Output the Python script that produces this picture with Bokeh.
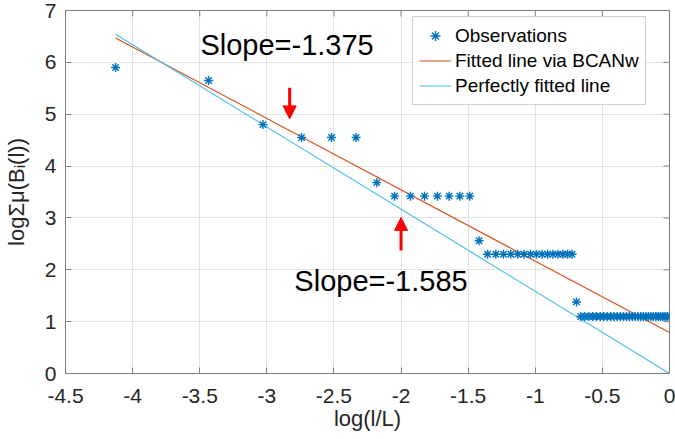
import math
from bokeh.plotting import figure
from bokeh.models import (Range1d, FixedTicker, NumeralTickFormatter,
                          Legend, LegendItem, Arrow, NormalHead, ColumnDataSource)
from bokeh.core.properties import value
from bokeh.embed import file_html
from bokeh.resources import INLINE

FONT = "Liberation Sans"

# Observations: x = log(l/L), y = log sum mu(B_i(l))
obs_x = [-4.127, -3.434, -3.029, -2.741, -2.518, -2.335, -2.181, -2.048, -1.930, -1.825,
         -1.729, -1.642, -1.562, -1.488, -1.419, -1.355, -1.294, -1.237, -1.183, -1.131,
         -1.083, -1.036, -0.992, -0.949, -0.908, -0.869, -0.831, -0.795, -0.760, -0.726,
         -0.693, -0.661, -0.631, -0.601, -0.572, -0.544, -0.516, -0.490, -0.464, -0.438,
         -0.414, -0.389, -0.366, -0.343, -0.320, -0.299, -0.277, -0.256, -0.235, -0.215,
         -0.195, -0.176, -0.157, -0.138, -0.120, -0.102, -0.084, -0.067, -0.050, -0.033,
         -0.016, 0.0]
obs_y = [5.90, 5.65, 4.80, 4.55, 4.55, 4.55, 3.68, 3.42, 3.42, 3.42,
         3.42, 3.42, 3.42, 3.42, 2.56, 2.30, 2.30, 2.30, 2.30, 2.30,
         2.30, 2.30, 2.30, 2.30, 2.30, 2.30, 2.30, 2.30, 2.30, 2.30,
         1.38, 1.10, 1.10, 1.10, 1.10, 1.10, 1.10, 1.10, 1.10, 1.10,
         1.10, 1.10, 1.10, 1.10, 1.10, 1.10, 1.10, 1.10, 1.10, 1.10,
         1.10, 1.10, 1.10, 1.10, 1.10, 1.10, 1.10, 1.10, 1.10, 1.10,
         1.10, 1.10]

# Fitted lines
fit_x = [-4.127, 0.0]
fit_y = [6.47, 0.79]
perfect_x = [-4.127, 0.0]
perfect_y = [6.54, 0.0]

# Axis ticks
x_ticks = [-4.5, -4.0, -3.5, -3.0, -2.5, -2.0, -1.5, -1.0, -0.5, 0.0]
y_ticks = [0, 1, 2, 3, 4, 5, 6, 7]
x_min, x_max = -4.5, 0.0
y_min, y_max = 0.0, 7.0

# Annotations
slope_labels = ["Slope=-1.375", "Slope=-1.585"]
slope_x = [-3.495, -2.795]
slope_y = [6.33, 1.78]

arrow_x0 = [-2.83, -2.0]
arrow_y0 = [5.51, 2.37]
arrow_x1 = [-2.83, -2.0]
arrow_y1 = [4.91, 3.01]

legend_labels = ["Observations", "Fitted line via BCANw", "Perfectly fitted line"]

AX = "#808080"

p = figure(width=675, height=439, output_backend="svg", toolbar_location=None,
           x_range=Range1d(x_min, x_max), y_range=Range1d(y_min, y_max),
           min_border_left=60, min_border_right=6, min_border_top=10, min_border_bottom=66)
p.background_fill_color = "white"
p.outline_line_color = AX
p.outline_line_width = 1

for ax in (p.xaxis[0], p.yaxis[0]):
    ax.major_label_text_font = FONT
    ax.major_label_text_font_size = "21px"
    ax.major_label_text_color = "#262626"
    ax.axis_label_text_font = FONT
    ax.axis_label_text_font_size = "22px"
    ax.axis_label_text_font_style = "normal"
    ax.axis_label_text_color = "#262626"
    ax.axis_line_color = AX
    ax.major_tick_line_color = AX
    ax.major_tick_in = 6
    ax.major_tick_out = 0
    ax.minor_tick_line_color = None

p.xaxis[0].ticker = FixedTicker(ticks=x_ticks)
p.yaxis[0].ticker = FixedTicker(ticks=y_ticks)
p.xaxis[0].formatter = NumeralTickFormatter(format="0.[0]")
p.yaxis[0].formatter = NumeralTickFormatter(format="0")
p.xaxis[0].major_label_standoff = 15
p.yaxis[0].major_label_standoff = 9
p.xaxis[0].axis_label = "log(l/L)"
p.yaxis[0].axis_label = "logΣμ(Bᵢ(l))"
p.xaxis[0].axis_label_standoff = 0
p.yaxis[0].axis_label_standoff = 13

p.xgrid.ticker = FixedTicker(ticks=x_ticks)
p.ygrid.ticker = FixedTicker(ticks=y_ticks)
p.xgrid.grid_line_color = "#e3e3e3"
p.ygrid.grid_line_color = "#e3e3e3"

# inward ticks on the top and right edges of the box (half of each dash is clipped by the frame)
p.scatter(x=x_ticks, y=[y_max] * len(x_ticks), marker="dash", size=12, angle=math.pi / 2,
          line_color=AX, line_width=1)
p.scatter(x=[x_max] * len(y_ticks), y=y_ticks, marker="dash", size=12,
          line_color=AX, line_width=1)

r_fit = p.line(fit_x, fit_y, line_color="#D95319", line_width=1.2)
r_perf = p.line(perfect_x, perfect_y, line_color="#4DBEEE", line_width=1.2)
r_obs = p.scatter(obs_x, obs_y, marker="asterisk", size=9, line_color="#0072BD", line_width=1.4)

p.text(x=slope_x, y=slope_y, text=slope_labels, text_font=value(FONT), text_font_size="29px",
       text_baseline="middle", text_align="left", text_color="black")

asrc = ColumnDataSource(dict(x0=arrow_x0, y0=arrow_y0, x1=arrow_x1, y1=arrow_y1))
p.add_layout(Arrow(end=NormalHead(size=13, fill_color="#ff0000", line_color="#ff0000"),
                   x_start="x0", y_start="y0", x_end="x1", y_end="y1", source=asrc,
                   line_color="#ff0000", line_width=3))

legend = Legend(items=[LegendItem(label=legend_labels[0], renderers=[r_obs]),
                       LegendItem(label=legend_labels[1], renderers=[r_fit]),
                       LegendItem(label=legend_labels[2], renderers=[r_perf])],
                location=(347, 268))
legend.label_text_font = FONT
legend.label_text_font_size = "19px"
legend.label_text_color = "black"
legend.label_height = 25
legend.glyph_height = 25
legend.glyph_width = 32
legend.spacing = 0
legend.padding = 6
legend.label_standoff = 4
legend.margin = 0
legend.border_line_color = "#a0a0a0"
legend.border_line_width = 1
legend.background_fill_color = "white"
legend.background_fill_alpha = 1
p.add_layout(legend)

open("out.html", "w").write(file_html(p, INLINE))
